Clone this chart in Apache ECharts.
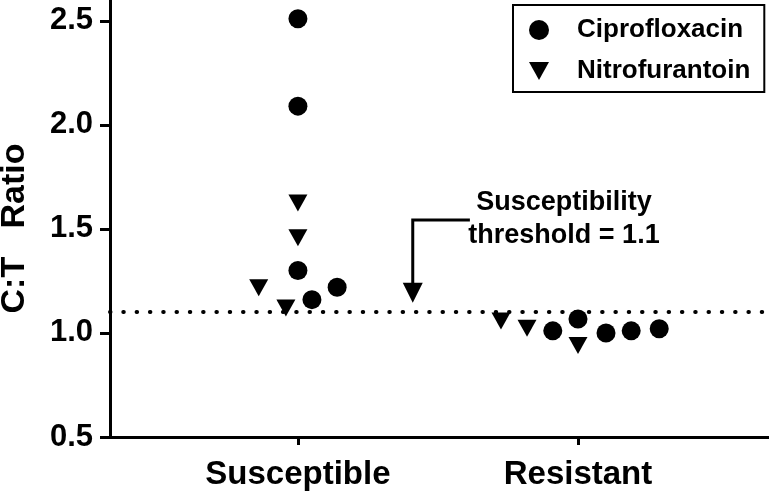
<!DOCTYPE html>
<html>
<head>
<meta charset="utf-8">
<script src="https://cdn.jsdelivr.net/npm/echarts@6/dist/echarts.min.js"></script>
<style>
html,body{margin:0;padding:0;background:#fff;}
#chart{width:769px;height:498px;}
</style>
</head>
<body>
<div id="chart"></div>
<script>
// ---- data ----
const categories = ['Susceptible', 'Resistant'];
const categoryPos = [1, 2];
const yTicks = [0.5, 1.0, 1.5, 2.0, 2.5];
const threshold = 1.1;
const thresholdLabel = ['Susceptibility', 'threshold = 1.1'];

const ciproX = [1.00, 1.00, 1.00, 1.05, 1.14, 1.91, 2.00, 2.10, 2.19, 2.29];
const ciproY = [2.51, 2.09, 1.30, 1.16, 1.22, 1.01, 1.067, 1.00, 1.01, 1.02];
const nitroX = [1.00, 1.00, 0.86, 0.957, 1.725, 1.818, 2.00];
const nitroY = [1.625, 1.457, 1.217, 1.12, 1.058, 1.022, 0.94];

const FONT = 'Liberation Sans, Arial, sans-serif';
const downTri = 'path://M0,0 L20,0 L10,18 Z';

const chart = echarts.init(document.getElementById('chart'), null, {renderer: 'canvas'});

const option = {
  backgroundColor: '#fff',
  animation: false,
  grid: {left: 110, right: 0, top: 0, bottom: 61, containLabel: false, outerBoundsMode: 'none'},
  xAxis: {
    type: 'value', min: 0.329, max: 2.682,
    splitLine: {show: false},
    axisLine: {show: true, lineStyle: {color: '#000', width: 3}},
    axisTick: {show: true, customValues: categoryPos, length: 8, lineStyle: {color: '#000', width: 3}},
    axisLabel: {
      customValues: categoryPos, margin: 21,
      formatter: v => categories[categoryPos.indexOf(v)] || '',
      color: '#000', fontFamily: FONT, fontWeight: 'bold', fontSize: 33
    }
  },
  yAxis: {
    type: 'value', min: 0.5, max: 2.6,
    name: 'C:T   Ratio', nameLocation: 'middle', nameGap: 78, nameRotate: 90,
    nameTextStyle: {color: '#000', fontFamily: FONT, fontWeight: 'bold', fontSize: 34, padding: [0, 20, 0, 0]},
    splitLine: {show: false},
    axisLine: {show: true, lineStyle: {color: '#000', width: 3}},
    axisTick: {show: true, customValues: yTicks, length: 10, lineStyle: {color: '#000', width: 3}},
    axisLabel: {
      customValues: yTicks, margin: 17,
      formatter: v => v.toFixed(1),
      color: '#000', fontFamily: FONT, fontWeight: 'bold', fontSize: 31
    }
  },
  legend: {
    orient: 'vertical', left: 513, top: 5,
    borderColor: '#000', borderWidth: 2, borderRadius: 0,
    padding: [12, 14, 8, 16],
    itemWidth: 20, itemHeight: 20, itemGap: 15,
    textStyle: {color: '#000', fontFamily: FONT, fontWeight: 'bold', fontSize: 26, lineHeight: 26, padding: [0, 0, 0, 23]},
    data: ['Ciprofloxacin', 'Nitrofurantoin']
  },
  series: [
    {
      name: 'Ciprofloxacin', type: 'scatter', symbol: 'circle', symbolSize: 19,
      itemStyle: {color: '#000', opacity: 1},
      data: ciproX.map((x, i) => [x, ciproY[i]]),
      markLine: {
        silent: true, symbol: 'none', label: {show: false},
        lineStyle: {color: '#000', width: 4, type: [0.5, 12.8], cap: 'round', opacity: 1},
        data: [{yAxis: threshold}]
      },
      z: 3
    },
    {
      name: 'Nitrofurantoin', type: 'scatter', symbol: downTri, symbolSize: [19, 17],
      symbolKeepAspect: false,
      itemStyle: {color: '#000', opacity: 1},
      data: nitroX.map((x, i) => [x, nitroY[i]]),
      z: 3
    }
  ]
};
chart.setOption(option);

// annotation arrow + text, placed via axis scales
const P = (x, y) => chart.convertToPixel({gridIndex: 0}, [x, y]);
const tip = P(1.41, 1.145);
const corner = P(1.41, 1.543);
const start = P(1.614, 1.543);
const t1 = P(1.95, 1.627);
const t2 = P(1.95, 1.467);
chart.setOption({
  graphic: [
    {type: 'polyline', shape: {points: [start, corner, [corner[0], tip[1] - 16]]},
     style: {stroke: '#000', lineWidth: 3, fill: null}, z: 10},
    {type: 'polygon', shape: {points: [[tip[0] - 10, tip[1] - 20], [tip[0] + 10, tip[1] - 20], [tip[0], tip[1]]]},
     style: {fill: '#000'}, z: 10},
    {type: 'text', x: t1[0], y: t1[1],
     style: {text: thresholdLabel[0], fill: '#000', font: 'bold 27px ' + FONT, align: 'center', verticalAlign: 'middle'}, z: 10},
    {type: 'text', x: t2[0], y: t2[1],
     style: {text: thresholdLabel[1], fill: '#000', font: 'bold 27px ' + FONT, align: 'center', verticalAlign: 'middle'}, z: 10}
  ]
});
</script>
</body>
</html>
